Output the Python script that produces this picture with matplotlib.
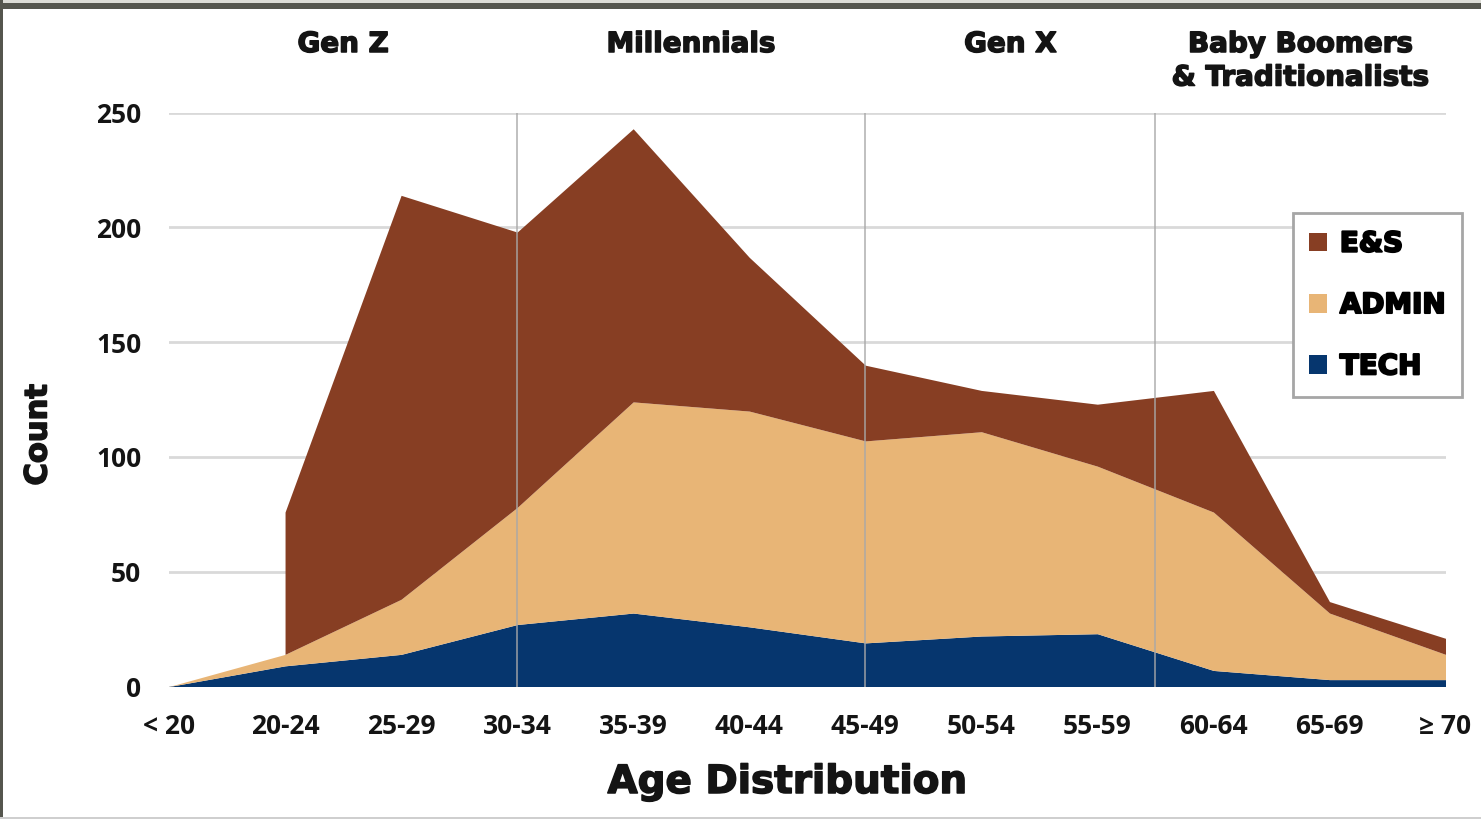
import numpy as np
import matplotlib.pyplot as plt
import matplotlib.patheffects as pe
from matplotlib.patches import Rectangle
from matplotlib.transforms import blended_transform_factory

ages = ['< 20', '20-24', '25-29', '30-34', '35-39', '40-44',
        '45-49', '50-54', '55-59', '60-64', '65-69', '≥ 70']
tech = [0, 9, 14, 27, 32, 26, 19, 22, 23, 7, 3, 3]
admin = [0, 5, 24, 51, 92, 94, 88, 89, 73, 69, 29, 11]
# nobody in E&S under 20, so that band starts at 20-24
es = [np.nan, 62, 176, 120, 119, 67, 33, 18, 27, 53, 5, 7]

generations = ['Gen Z', 'Millennials', 'Gen X', 'Baby Boomers\n& Traditionalists']
gen_bounds = [0, 3, 6, 8.5, 11]

BROWN = '#873e23'
TAN = '#e8b576'
NAVY = '#06366e'
INK = '#141414'

# fake a heavier weight than DejaVu Bold
heavy = [pe.withStroke(linewidth=1.1, foreground=INK)]

W, H = 1481, 819
fig = plt.figure(figsize=(W / 100, H / 100), dpi=100)
ax = fig.add_axes([169 / W, 132.5 / H, 1276.5 / W, 573.8 / H])

x = np.arange(len(ages))
top_tech = np.array(tech, float)
top_admin = top_tech + admin
top_es = top_admin + np.array(es)

h_tech = ax.fill_between(x, 0, top_tech, color=NAVY, lw=0, zorder=2)
h_admin = ax.fill_between(x, top_tech, top_admin, color=TAN, lw=0, zorder=2)
h_es = ax.fill_between(x, top_admin, top_es, color=BROWN, lw=0, zorder=2)

# generation dividers
for b in gen_bounds[1:-1]:
    ax.axvline(b, color='#a8a8a8', lw=1.2, alpha=0.85, zorder=3)

ax.set_xlim(0, 11)
ax.set_ylim(0, 250)
ax.set_yticks(range(0, 251, 50))
ax.set_xticks(x)
ax.set_xticklabels(ages)
ax.yaxis.grid(True, color='#d9d9d9', lw=2)
ax.set_axisbelow(True)
for s in ax.spines.values():
    s.set_visible(False)

tick_font = dict(family=['Open Sans', 'DejaVu Sans'], size=19, weight='bold')
ax.tick_params(length=0)
ax.tick_params(axis='x', pad=19)
ax.tick_params(axis='y', pad=20)
for lbl in ax.get_xticklabels() + ax.get_yticklabels():
    lbl.set(**tick_font, color=INK)

# generation headers above the plot
trans = blended_transform_factory(ax.transData, fig.transFigure)
for name, lo, hi in zip(generations, gen_bounds[:-1], gen_bounds[1:]):
    ax.text((lo + hi) / 2, 1 - 30 / H, name, transform=trans, ha='center', va='top',
            fontsize=20, fontweight='bold', color=INK, linespacing=1.25,
            path_effects=heavy)

fig.text(38 / W, 1 - 435 / H, 'Count', rotation=90, ha='center', va='center',
         fontsize=22, fontweight='bold', color=INK, path_effects=heavy)
fig.text(787 / W, 1 - 793 / H, 'Age Distribution', ha='center', va='baseline',
         fontsize=28, fontweight='bold', color=INK, path_effects=heavy)

leg = ax.legend([h_es, h_admin, h_tech], ['E&S', 'ADMIN', 'TECH'],
                loc='upper right', bbox_to_anchor=(1462 / W, 1 - 213 / H),
                bbox_transform=fig.transFigure, borderaxespad=0,
                prop=dict(size=20, weight='bold'), handlelength=0.65, handleheight=0.65,
                handletextpad=0.45, labelspacing=1.2, borderpad=0.6,
                fancybox=False, framealpha=1)
leg.get_frame().set_edgecolor('#a6a6a6')
leg.get_frame().set_linewidth(2)
for t in leg.get_texts():
    t.set_color('#000000')
    t.set_path_effects([pe.withStroke(linewidth=1.5, foreground='#000000')])

# outer frame
fig.add_artist(Rectangle((0, 1 - 3 / H), 1, 3 / H, transform=fig.transFigure,
                         color='#dcdcd6', lw=0))
fig.add_artist(Rectangle((0, 1 - 9 / H), 1, 6 / H, transform=fig.transFigure,
                         color='#55564e', lw=0))
fig.add_artist(Rectangle((0, 0), 3 / W, 1, transform=fig.transFigure,
                         color='#55564e', lw=0))
fig.add_artist(Rectangle((0, 0), 1, 2 / H, transform=fig.transFigure,
                         color='#cfcfcf', lw=0))

fig.savefig('out.png', dpi=100)
